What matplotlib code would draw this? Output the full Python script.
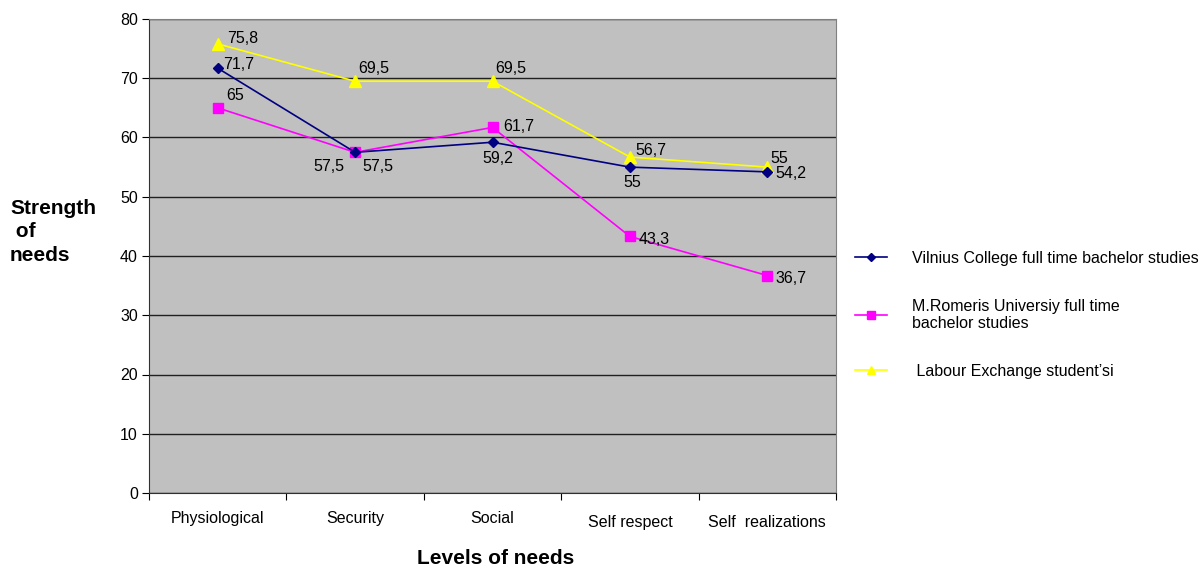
import matplotlib
matplotlib.use("Agg")
import matplotlib.pyplot as plt
from matplotlib.transforms import blended_transform_factory

plt.rcParams['font.family'] = ['Liberation Sans', 'DejaVu Sans']

categories = ["Physiological", "Security", "Social", "Self respect", "Self  realizations"]
vilnius = [71.7, 57.5, 59.2, 55, 54.2]
romeris = [65, 57.5, 61.7, 43.3, 36.7]
labour = [75.8, 69.5, 69.5, 56.7, 55]

series_names = ["Vilnius College full time bachelor studies",
                "M.Romeris Universiy full time\nbachelor studies",
                " Labour Exchange student\u2019si"]

FS = 11.5

fig = plt.figure(figsize=(12.01, 5.69), dpi=100)
ax = fig.add_axes([149 / 1201, 76 / 569, 687 / 1201, 474 / 569])
ax.set_facecolor("#C0C0C0")

x = list(range(len(categories)))
l1, = ax.plot(x, vilnius, color="#000080", marker="D", markersize=5, lw=1.2, zorder=4)
l2, = ax.plot(x, romeris, color="#FF00FF", marker="s", markersize=7, lw=1.2, zorder=3)
l3, = ax.plot(x, labour, color="#FFFF00", marker="^", markersize=8, lw=1.2, zorder=3)

ax.set_xlim(-0.5, 4.5)
ax.set_ylim(0, 80)
ax.set_yticks(range(0, 81, 10))
ax.yaxis.grid(True, color="#202020", lw=1)
ax.set_axisbelow(True)
ax.tick_params(axis="y", labelsize=FS, length=5, direction="out", pad=3)

# category boundaries carry the tick marks
ax.set_xticks([i - 0.5 for i in range(len(categories) + 1)])
ax.set_xticklabels([])
ax.tick_params(axis="x", length=5, direction="out")
tr = blended_transform_factory(ax.transData, ax.transAxes)
label_drop = [0, 0, 0, 4, 4]
for i, (c, d) in enumerate(zip(categories, label_drop)):
    ax.text(i, -0.038 - d / 474, c, transform=tr, ha="center", va="top", fontsize=FS)

for side in ["top", "right"]:
    ax.spines[side].set_color("#808080")
ax.spines["left"].set_color("#303030")
ax.spines["bottom"].set_color("#303030")


def label(xi, v, dx, dy):
    txt = f"{v:g}".replace(".", ",")
    ax.annotate(txt, xy=(xi, v), xytext=(dx, dy), textcoords="offset points",
                fontsize=FS, ha="left", va="center")


# data labels: offsets in points
vil_off = [(4, 3), (-30, -10), (-7, -12), (-5, -11), (6, -1)]
rom_off = [(6, 9), (5, -10), (8, 1), (6, -2), (6, -2)]
lab_off = [(7, 4), (2, 9), (2, 9), (4, 5), (2, 6)]
for i in x:
    label(i, vilnius[i], *vil_off[i])
    label(i, romeris[i], *rom_off[i])
    label(i, labour[i], *lab_off[i])

fig.text(496 / 1201, 1 - 559 / 569, "Levels of needs", fontsize=15, fontweight="bold",
         ha="center", va="center")
fig.text(10 / 1201, 1 - 232 / 569, "Strength\n of\nneeds", fontsize=15, fontweight="bold",
         ha="left", va="center", linespacing=1.3)

fig.legend([l1, l2, l3], series_names, loc="upper left",
           bbox_to_anchor=(855 / 1201, 1 - 251 / 569), frameon=False, fontsize=FS,
           handlelength=2.0, handletextpad=1.55, labelspacing=2.05, markerscale=0.8,
           borderaxespad=0, borderpad=0)

fig.savefig("out.png", dpi=100)
